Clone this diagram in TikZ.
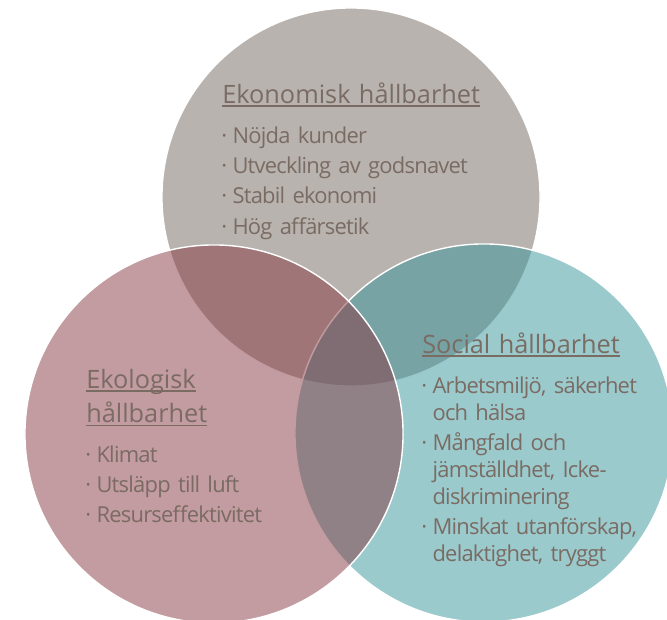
\documentclass[tikz,border=0pt]{standalone}
\usepackage{fontspec}
\setmainfont{Open Sans}
\newfontfamily\listenschrift{Open Sans}[LetterSpace=-3.5]

\definecolor{grau}{RGB}{184,179,175}
\definecolor{rosa}{RGB}{135,57,67}
\definecolor{petrol}{RGB}{55,149,155}
\definecolor{schrift}{RGB}{122,107,99}

\newsavebox\rubrikbox
\newcommand\strich[1]{\leavevmode\sbox\rubrikbox{#1}\rlap{\rule[-2.6pt]{\wd\rubrikbox}{0.9pt}}\usebox\rubrikbox}
\newcommand\punkt[1]{\hangindent=8pt\hangafter=1\noindent\makebox[8pt][l]{·}#1\par\vspace{2.4pt}}

\begin{document}
\begin{tikzpicture}[x=0.025cm, y=-0.025cm,
        kreis/.style={circle, draw=white, line width=1pt, minimum size=9.45cm, inner sep=0pt},
        rubrik/.style={anchor=base west, inner sep=0pt, text=schrift, text width=7cm, font=\fontsize{18}{24.5}\selectfont},
        liste/.style={anchor=base west, inner sep=0pt, text=schrift, text width=7cm, font=\listenschrift\fontsize{15.6}{19.2}\selectfont\raggedright}
    ]
    \useasboundingbox (0,0) rectangle (667,620);

    \node[kreis, fill=grau] (eko) at (351,197) {};
    \node[kreis, fill=petrol, fill opacity=0.5] (soz) at (484,433) {};
    \node[kreis, fill=rosa, fill opacity=0.5] (oeko) at (214,434) {};

    \node[rubrik] (ekoRubrik) at (222,103) {\strich{Ekonomisk hållbarhet}};
    \node[liste] (ekoListe) at (221,143) {\punkt{Nöjda kunder}\punkt{Utveckling av godsnavet}\punkt{Stabil ekonomi}\punkt{Hög affärsetik}};

    \node[rubrik] (oekoRubrik) at (86,388) {\strich{Ekologisk}\\\strich{hållbarhet}};
    \node[liste] (oekoListe) at (85,462) {\punkt{Klimat}\punkt{Utsläpp till luft}\punkt{Resurseffektivitet}};

    \node[rubrik] (sozRubrik) at (422,353) {\strich{Social hållbarhet}};
    \node[liste] (sozListe) at (421,393) {\punkt{Arbetsmiljö, säkerhet\newline och hälsa}\punkt{Mångfald och\newline jämställdhet, Icke-\newline diskriminering}\punkt{Minskat utanförskap,\newline delaktighet, tryggt}};
\end{tikzpicture}
\end{document}
